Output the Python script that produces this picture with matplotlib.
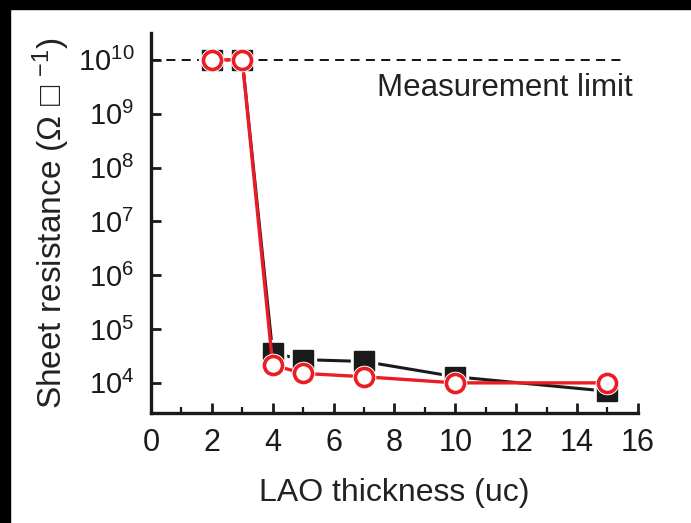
import numpy as np
import matplotlib.pyplot as plt
from matplotlib.patches import Rectangle
from matplotlib.ticker import LogLocator, FixedLocator, MultipleLocator

plt.rcParams['font.family'] = ['Liberation Sans', 'DejaVu Sans']
plt.rcParams['mathtext.fontset'] = 'custom'
plt.rcParams['mathtext.rm'] = 'Liberation Sans'
plt.rcParams['mathtext.it'] = 'Liberation Sans'

# data
thickness = [2, 3, 4, 5, 7, 10, 15]
r_black = [1e10, 1e10, 3.6e4, 2.7e4, 2.5e4, 1.3e4, 7.0e3]
r_red = [1e10, 1e10, 2.15e4, 1.5e4, 1.3e4, 1.0e4, 1.0e4]
limit = 1e10
y_ticks = [1e4, 1e5, 1e6, 1e7, 1e8, 1e9, 1e10]
x_ticks = [0, 2, 4, 6, 8, 10, 12, 14, 16]

fig = plt.figure(figsize=(6.91, 5.23), dpi=100)
fig.patches.append(Rectangle((0, 1 - 9 / 523), 1, 9 / 523, transform=fig.transFigure,
                             color='black', zorder=10))
fig.patches.append(Rectangle((0, 0), 10 / 691, 1, transform=fig.transFigure,
                             color='black', zorder=10))

ax = fig.add_axes([0.2185, 0.2103, 0.7045, 0.7267])
ax.set_yscale('log')

ax.plot([0, 15.5], [limit, limit], color='black', lw=1.3, ls=(0, (5, 3.5)), zorder=1)

ax.plot(thickness, r_black, color='#1a1a1a', lw=2.2, zorder=2)
ax.plot(thickness, r_black, ls='none', marker='s', ms=19, mfc='white', mec='white', zorder=3)
ax.plot(thickness, r_black, ls='none', marker='s', ms=15, mfc='#1a1a1a', mec='#1a1a1a', zorder=4)
ax.plot(thickness, r_red, color='#ec1c24', lw=2.4, zorder=5)
ax.plot(thickness, r_red, ls='none', marker='o', ms=16, mfc='white', mec='white', zorder=6)
ax.plot(thickness, r_red, ls='none', marker='o', ms=13, mfc='white', mec='#ec1c24',
        mew=2.6, zorder=7)

ax.text(15.85, 10 ** 9.48, 'Measurement limit', ha='right', va='center', fontsize=22.5,
        color='#222222')

ax.set_xlim(0, 16)
ax.set_ylim(10 ** 3.44, 10 ** 10.5)
ax.xaxis.set_major_locator(FixedLocator(x_ticks))
ax.xaxis.set_minor_locator(MultipleLocator(1))
ax.yaxis.set_major_locator(FixedLocator(y_ticks))
ax.yaxis.set_minor_locator(LogLocator(base=10, subs=np.arange(2, 10)))
ax.set_yticklabels(['$10^{%d}$' % int(np.log10(v)) for v in y_ticks])

for s in ['top', 'right']:
    ax.spines[s].set_visible(False)
for s in ['left', 'bottom']:
    ax.spines[s].set_linewidth(2.4)
    ax.spines[s].set_color('#1a1a1a')

ax.tick_params(which='major', direction='in', length=7, width=2, labelsize=22,
               colors='#1a1a1a')
ax.tick_params(which='minor', direction='in', length=4, width=1.6, colors='#1a1a1a')
ax.tick_params(axis='x', which='major', pad=11)
ax.tick_params(axis='y', which='major', pad=12, labelsize=21)

ax.set_xlabel('LAO thickness (uc)', fontsize=23, color='#222222', labelpad=14)
ax.set_ylabel('Sheet resistance (Ω □ $^{-1}$)', fontsize=24, color='#222222', labelpad=4,
              family=['Liberation Sans', 'Noto Sans CJK JP', 'DejaVu Sans'])

fig.savefig('out.png', dpi=100)
